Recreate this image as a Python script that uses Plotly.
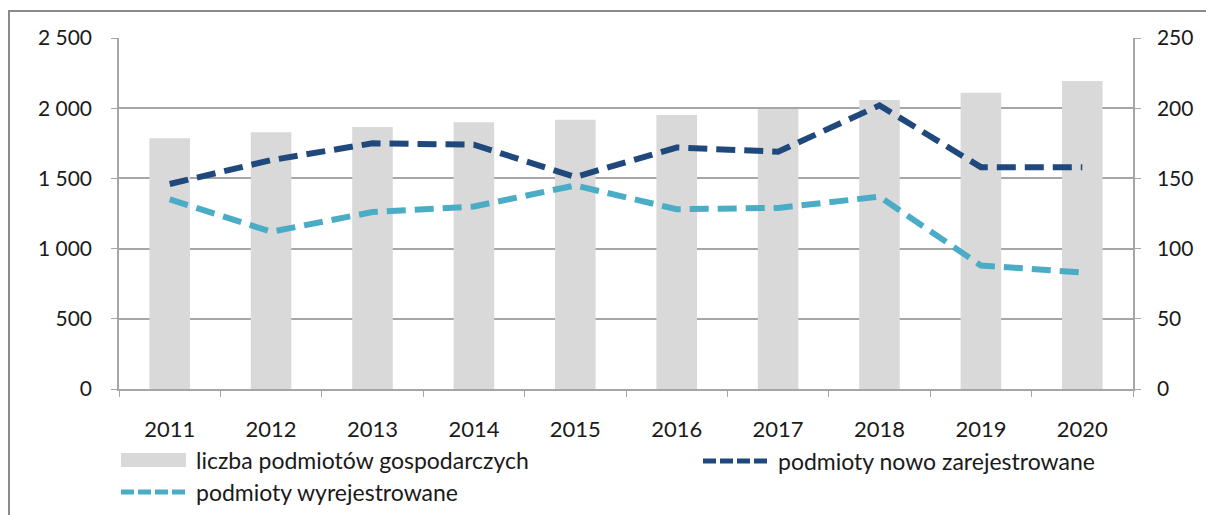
import plotly.graph_objects as go

years = ["2011", "2012", "2013", "2014", "2015", "2016", "2017", "2018", "2019", "2020"]
liczba_podmiotow = [1786, 1828, 1866, 1900, 1918, 1952, 1994, 2058, 2110, 2194]
nowo_zarejestrowane = [146, 163, 175, 174, 151, 172, 169, 202, 158, 158]
wyrejestrowane = [135, 112, 126, 130, 145, 128, 129, 137, 88, 83]

names = ["liczba podmiotów gospodarczych", "podmioty nowo zarejestrowane", "podmioty wyrejestrowane"]

W, H = 1206, 515
L, R, T, B = 119, 1133, 38, 389
FONT = "Lato"
TXT = "#1a1a1a"
BAR_C = "#d9d9d9"
DARK_C = "#1f497d"
LIGHT_C = "#4bacc6"
GRID_C = "#a6a6a6"
BORDER_C = "#8a8a8a"


def px_x(px):
    return (px - L) / (R - L)


def px_y(py):
    return (B - py) / (B - T)


fig = go.Figure()
fig.add_trace(go.Bar(x=years, y=liczba_podmiotow, name=names[0], marker_color=BAR_C,
                     marker_line_width=0, width=0.4, yaxis="y", showlegend=False))
fig.add_trace(go.Scatter(x=years, y=nowo_zarejestrowane, name=names[1], mode="lines",
                         line=dict(color=DARK_C, width=6, dash="19px,9px"), yaxis="y2",
                         showlegend=False))
fig.add_trace(go.Scatter(x=years, y=wyrejestrowane, name=names[2], mode="lines",
                         line=dict(color=LIGHT_C, width=6, dash="19px,9px"), yaxis="y2",
                         showlegend=False))

shapes = []
annotations = []

# outer chart border (top and left edges visible in the frame)
shapes.append(dict(type="line", xref="paper", yref="paper",
                   x0=px_x(8), x1=px_x(W), y0=px_y(11), y1=px_y(11),
                   line=dict(color=BORDER_C, width=2), layer="above"))
shapes.append(dict(type="line", xref="paper", yref="paper",
                   x0=px_x(9), x1=px_x(9), y0=px_y(10), y1=px_y(H),
                   line=dict(color=BORDER_C, width=2), layer="above"))

# manual legend
leg = [
    (names[0], "bar", 121, 186, 460, 194),
    (names[1], DARK_C, 703, 770, 461, 776),
    (names[2], LIGHT_C, 121, 186, 492, 194),
]
for label, kind, x0, x1, yc, tx in leg:
    if kind == "bar":
        shapes.append(dict(type="rect", xref="paper", yref="paper",
                           x0=px_x(x0), x1=px_x(x1), y0=px_y(yc + 7), y1=px_y(yc - 7),
                           fillcolor=BAR_C, line=dict(width=0)))
    else:
        shapes.append(dict(type="line", xref="paper", yref="paper",
                           x0=px_x(x0), x1=px_x(x1), y0=px_y(yc), y1=px_y(yc),
                           line=dict(color=kind, width=5, dash="13px,4px")))
    annotations.append(dict(text=label, xref="paper", yref="paper", x=px_x(tx), y=px_y(yc),
                            xanchor="left", yanchor="middle", showarrow=False,
                            font=dict(family=FONT, size=23, color=TXT)))

fig.update_layout(
    width=W, height=H,
    margin=dict(l=L, r=W - R, t=T, b=H - B, pad=0),
    paper_bgcolor="white", plot_bgcolor="white",
    separators=", ",
    font=dict(family=FONT, size=21, color=TXT),
    bargap=0.6,
    xaxis=dict(type="category", tickson="boundaries", ticks="outside", ticklen=6,
               tickcolor=GRID_C, showline=True, linecolor=GRID_C, linewidth=1.5,
               showgrid=False, ticklabelstandoff=20,
               tickfont=dict(family=FONT, size=22, color=TXT)),
    yaxis=dict(range=[0, 2500], dtick=500, tickformat=",d", ticks="outside", ticklen=6,
               tickcolor=GRID_C, showline=True, linecolor=GRID_C, linewidth=1.5,
               gridcolor=GRID_C, gridwidth=1.5, zeroline=False, ticklabelstandoff=15,
               tickfont=dict(family=FONT, size=21, color=TXT)),
    yaxis2=dict(range=[0, 250], dtick=50, overlaying="y", side="right", ticks="outside",
                ticklen=6, tickcolor=GRID_C, showline=True, linecolor=GRID_C, linewidth=1.5,
                showgrid=False, zeroline=False, ticklabelstandoff=12,
                tickfont=dict(family=FONT, size=21, color=TXT)),
    shapes=shapes,
    annotations=annotations,
    showlegend=False,
)

fig.write_html("out.html", config={"displayModeBar": False},
               post_script="document.body.style.margin='0';document.body.style.overflow='hidden';")
